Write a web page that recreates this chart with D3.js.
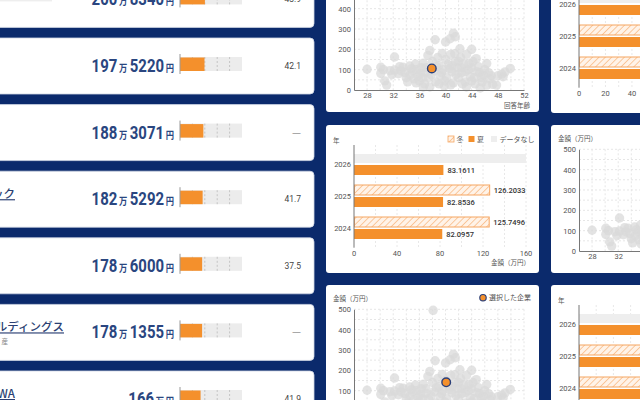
<!DOCTYPE html>
<html>
<head>
<meta charset="utf-8">
<script src="https://cdn.jsdelivr.net/npm/d3@7"></script>
<style>
  body { margin: 0; background: #0b2a6c; }
  svg { display: block; }
</style>
</head>
<body>
<svg id="chart" width="640" height="400"></svg>
<script>
// ranking list (left column)
const rankAmounts = [200.834, 197.522, 188.3071, 182.5292, 178.6, 178.1355, 166];
const rankAges = [43.9, 42.1, null, 41.7, 37.5, null, 41.9];
const rankNames = ["", "", "", "ック", "", "ルディングス", "WA"];
const rankNotes = ["", "", "", "", "", "産", ""];
const rankTicks = [100, 200, 300, 400];

// bonus per year (bar cards)
const bonusYears = ["2026", "2025", "2024"];
const winterMid = [null, 126.2033, 125.7496];
const summerMid = [83.1611, 82.8536, 82.0957];
const winterTopRight = [null, 101.4, 98.7];
const summerTopRight = [72.3, 70.8, 69.5];
const winterBottomRight = [null, 148.2, 145.6];
const summerBottomRight = [96.4, 95.1, 93.8];

// age vs amount (scatter cards)
const surveyPoints = [
  [28.0,102],[30.1,112],[30.1,82],[30.5,100],[30.7,45],[31.0,24],[31.5,95],[31.8,75],
  [32.2,162],[32.2,98],[32.8,80],[33.0,115],[33.2,95],[33.5,112],[33.8,85],[34.0,60],[34.2,40],[34.5,118],[34.6,75],[34.8,105],
  [35.0,95],[35.2,55],[35.4,128],[35.5,35],[35.6,100],[35.8,70],[36.0,45],[36.2,80],[36.3,110],[36.5,60],[36.6,132],[36.6,15],[36.8,30],
  [37.0,88],[37.0,110],[37.3,170],[37.4,60],[37.6,195],[37.6,15],[37.8,75],
  [38.0,140],[38.1,495],[38.3,95],[38.4,247],[38.5,40],[38.6,115],[38.8,160],
  [39.0,120],[39.0,30],[39.2,70],[39.4,85],[39.5,180],[39.6,100],[39.8,20],[39.9,45],
  [40.0,236],[40.0,150],[40.2,60],[40.4,125],[40.6,105],[40.7,252],[40.8,175],[40.8,25],
  [41.0,90],[41.0,120],[41.2,279],[41.5,262],[41.2,35],[41.4,179],[41.5,140],[41.6,75],[41.8,110],
  [42.0,60],[42.0,140],[42.2,203],[42.3,160],[42.4,110],[42.5,85],[42.6,30],[42.8,130],
  [43.0,40],[43.0,90],[43.2,15],[43.2,175],[43.5,100],[43.6,130],[43.8,65],
  [44.0,200],[44.0,110],[44.0,45],[44.2,140],[44.4,60],[44.5,30],[44.7,154],[44.8,90],
  [45.0,115],[45.2,85],[45.3,10],[45.5,60],[45.6,40],[45.8,73],
  [46.0,100],[46.3,130],[46.3,24],[46.6,85],[46.8,55],[47.0,70],[47.2,28],[47.8,24],
  [48.0,70],[48.6,78],[48.8,65],[49.1,89],[49.9,106]
];
const selectedTop = [37.9, 106];
const selectedBottom = [40.1, 141];
const selectedRight = [43.6, 118];

const NAVY = "#2a4680";
const ORANGE = "#f4902c";
const FONT = "Roboto, 'Noto Sans CJK JP', sans-serif";
const JFONT = "'Noto Sans CJK JP', Roboto, sans-serif";

const svg = d3.select("#chart");
svg.append("rect").attr("width", 640).attr("height", 400).attr("fill", "#0b2a6c");

// hatch for winter bars
const defs = svg.append("defs");
const hatch = defs.append("pattern")
  .attr("id", "hatch")
  .attr("patternUnits", "userSpaceOnUse")
  .attr("width", 4.5).attr("height", 4.5)
  .attr("patternTransform", "rotate(45)");
hatch.append("rect").attr("width", 4.5).attr("height", 4.5).attr("fill", "#fff3e8");
hatch.append("line")
  .attr("x1", 0).attr("y1", 0).attr("x2", 0).attr("y2", 4.5)
  .attr("stroke", "#f6a560").attr("stroke-width", 1.1);

/* ---------- left column: ranking cards ---------- */
const rankY = d3.scaleLinear().domain([0, 6]).range([-28.6, 371]);
const rankX = d3.scaleLinear().domain([0, 500]).range([180, 242]);

rankAmounts.forEach(function(v, i) {
  const top = rankY(i);
  const g = svg.append("g").attr("class", "rank_card");

  g.append("rect")
    .attr("x", -10).attr("y", top)
    .attr("width", 324).attr("height", 56)
    .attr("rx", 4)
    .attr("fill", "#fff")
    .attr("stroke", "#cfd6e3").attr("stroke-width", 0.8);

  if (i === 0) {
    g.append("rect").attr("x", -10).attr("y", top + 16).attr("width", 62).attr("height", 14).attr("fill", "#eeeeee");
  }

  // name (cut by the left edge)
  if (rankNames[i]) {
    g.append("text")
      .attr("x", i === 5 ? 64 : 15)
      .attr("y", top + 27)
      .attr("text-anchor", "end")
      .attr("font-family", JFONT)
      .attr("font-size", 11.5)
      .attr("font-weight", 500)
      .attr("fill", "#2b3f73")
      .attr("text-decoration", "underline")
      .text(rankNames[i]);
  }
  if (rankNotes[i]) {
    g.append("text")
      .attr("x", 8).attr("y", top + 40)
      .attr("text-anchor", "end")
      .attr("font-family", JFONT)
      .attr("font-size", 6.5)
      .attr("fill", "#888")
      .text(rankNotes[i]);
  }

  // amount  xxx万xxxx円
  const man = Math.floor(v);
  const rest = Math.round((v - man) * 10000);
  const t = g.append("text")
    .attr("transform", "translate(174," + (top + 34) + ") scale(0.83,1)")
    .attr("text-anchor", "end")
    .attr("font-family", FONT)
    .attr("font-weight", 700)
    .attr("fill", NAVY);
  t.append("tspan").attr("font-size", 18).text(man);
  t.append("tspan").attr("font-size", 10).attr("font-family", JFONT).attr("dx", 2).text("万");
  if (rest) t.append("tspan").attr("font-size", 18).attr("dx", 3).text(String(rest).padStart(4, "0"));
  t.append("tspan").attr("font-size", 10).attr("font-family", JFONT).attr("dx", 2).text("円");

  // mini bar
  g.append("rect")
    .attr("x", rankX(0)).attr("y", top + 19)
    .attr("width", rankX(500) - rankX(0)).attr("height", 14)
    .attr("fill", "#ececec");
  g.selectAll(".rk_tick").data(rankTicks).enter()
    .append("line")
    .attr("class", "rk_tick")
    .attr("x1", d => rankX(d)).attr("x2", d => rankX(d))
    .attr("y1", top + 19).attr("y2", top + 33)
    .attr("stroke", "#c4c4c4").attr("stroke-dasharray", "2,2");
  g.append("rect")
    .attr("x", rankX(0)).attr("y", top + 19.5)
    .attr("width", rankX(v) - rankX(0)).attr("height", 13.5)
    .attr("fill", ORANGE);
  g.append("line")
    .attr("x1", rankX(0)).attr("x2", rankX(0))
    .attr("y1", top + 16).attr("y2", top + 36)
    .attr("stroke", "#999").attr("stroke-width", 1);

  g.append("text")
    .attr("x", 301).attr("y", top + 31)
    .attr("text-anchor", "end")
    .attr("font-family", rankAges[i] == null ? "'DejaVu Sans', sans-serif" : FONT)
    .attr("font-size", rankAges[i] == null ? 9 : 8.5)
    .attr("fill", rankAges[i] == null ? "#666" : "#444")
    .text(rankAges[i] == null ? "—" : rankAges[i].toFixed(1));
});

/* ---------- scatter card ---------- */
function drawScatter(L, T, selected) {
  const g = svg.append("g").attr("class", "g_scatter");
  g.append("rect").attr("x", L).attr("y", T).attr("width", 213).attr("height", 148).attr("rx", 3).attr("fill", "#fff");

  const x = d3.scaleLinear().domain([26, 52]).range([L + 28, L + 198]);
  const y = d3.scaleLinear().domain([0, 500]).range([T + 126, T + 24.3]);

  g.selectAll(".vgrid").data(d3.range(28, 53, 2)).enter()
    .append("line").attr("class", "vgrid")
    .attr("x1", d => x(d)).attr("x2", d => x(d))
    .attr("y1", y(500)).attr("y2", y(0))
    .attr("stroke", "#e6e6e6").attr("stroke-dasharray", "2,2");
  g.selectAll(".hgrid").data(d3.range(50, 501, 50)).enter()
    .append("line").attr("class", "hgrid")
    .attr("x1", x(26)).attr("x2", x(52))
    .attr("y1", d => y(d)).attr("y2", d => y(d))
    .attr("stroke", "#e6e6e6").attr("stroke-dasharray", "2,2");

  g.selectAll(".pt").data(surveyPoints).enter()
    .append("circle").attr("class", "pt")
    .attr("cx", d => x(d[0])).attr("cy", d => y(d[1]))
    .attr("r", 4.7)
    .attr("fill", "#d9d9d9").attr("fill-opacity", 0.75);

  g.append("circle")
    .attr("cx", x(selected[0])).attr("cy", y(selected[1]))
    .attr("r", 4.3)
    .attr("fill", ORANGE).attr("stroke", "#2a3f7a").attr("stroke-width", 1.4);

  const ax = g.append("g")
    .attr("transform", "translate(0," + y(0) + ")")
    .call(d3.axisBottom(x).tickValues(d3.range(28, 53, 4)).tickSize(0).tickPadding(3));
  const ay = g.append("g")
    .attr("transform", "translate(" + x(26) + ",0)")
    .call(d3.axisLeft(y).tickValues(d3.range(0, 501, 100)).tickSize(0).tickPadding(3));
  [ax, ay].forEach(function(a) {
    a.select(".domain").attr("stroke", "#777");
    a.selectAll("text").attr("font-family", FONT).attr("font-size", 7.5).attr("fill", "#555");
  });

  g.append("text").attr("x", L + 7).attr("y", T + 16)
    .attr("font-family", JFONT).attr("font-size", 6.5).attr("fill", "#555")
    .text("金額（万円）");
  g.append("text").attr("x", L + 204).attr("y", T + 143.5)
    .attr("text-anchor", "end")
    .attr("font-family", JFONT).attr("font-size", 6.5).attr("fill", "#555")
    .text("回答年齢");

  g.append("circle").attr("cx", L + 157).attr("cy", T + 12.7).attr("r", 3.2)
    .attr("fill", ORANGE).attr("stroke", "#2a3f7a").attr("stroke-width", 1.2);
  g.append("text").attr("x", L + 163).attr("y", T + 15.2)
    .attr("font-family", JFONT).attr("font-size", 7).attr("fill", "#555")
    .text("選択した企業");
}

/* ---------- bar card ---------- */
function drawBars(L, T, winter, summer, xMax, tickStep) {
  const g = svg.append("g").attr("class", "g_bars");
  g.append("rect").attr("x", L).attr("y", T).attr("width", 213).attr("height", 148).attr("rx", 3).attr("fill", "#fff");

  const x = d3.scaleLinear().domain([0, xMax]).range([L + 28, L + 28 + 172]);
  const y = d3.scaleBand().domain(bonusYears).range([T + 23, T + 119]);
  const mid = d => y(d) + y.bandwidth() / 2;

  g.selectAll(".vgrid").data(d3.range(tickStep / 2, xMax + 0.01, tickStep / 2)).enter()
    .append("line").attr("class", "vgrid")
    .attr("x1", d => x(d)).attr("x2", d => x(d))
    .attr("y1", T + 20).attr("y2", T + 122.7)
    .attr("stroke", "#e8e8e8").attr("stroke-dasharray", "2,2");

  const rows = bonusYears.map((yr, i) => ({ yr: yr, w: winter[i], s: summer[i] }));

  rows.forEach(function(r) {
    const c = mid(r.yr);
    if (r.w == null) {
      g.append("rect").attr("x", x(0)).attr("y", c - 10)
        .attr("width", x(xMax) - x(0)).attr("height", 9)
        .attr("fill", "#eeeeee");
    } else {
      g.append("rect").attr("x", x(0) + 0.5).attr("y", c - 11)
        .attr("width", x(r.w) - x(0) - 0.5).attr("height", 10)
        .attr("fill", "url(#hatch)")
        .attr("stroke", "#f6a560").attr("stroke-width", 1);
      g.append("text").attr("x", x(r.w) + 4).attr("y", c - 3.3)
        .attr("font-family", FONT).attr("font-size", 7.5).attr("font-weight", 500).attr("fill", "#333")
        .text(r.w.toFixed(4));
    }
    g.append("rect").attr("x", x(0)).attr("y", c + 1)
      .attr("width", x(r.s) - x(0)).attr("height", 10)
      .attr("fill", ORANGE);
    g.append("text").attr("x", x(r.s) + 4).attr("y", c + 8.7)
      .attr("font-family", FONT).attr("font-size", 7.5).attr("font-weight", 500).attr("fill", "#333")
      .text(r.s.toFixed(4));
  });

  g.append("line")
    .attr("x1", x(0)).attr("x2", x(0))
    .attr("y1", T + 20).attr("y2", T + 122.7)
    .attr("stroke", "#777");
  g.selectAll(".ylab").data(bonusYears).enter()
    .append("text").attr("class", "ylab")
    .attr("x", x(0) - 3).attr("y", d => mid(d) + 2.7)
    .attr("text-anchor", "end")
    .attr("font-family", FONT).attr("font-size", 7.5).attr("fill", "#555")
    .text(d => d);
  g.selectAll(".xlab").data(d3.range(0, xMax + 0.01, tickStep)).enter()
    .append("text").attr("class", "xlab")
    .attr("x", d => x(d)).attr("y", T + 130.5)
    .attr("text-anchor", "middle")
    .attr("font-family", FONT).attr("font-size", 7.5).attr("fill", "#555")
    .text(d => d);

  g.append("text").attr("x", L + 7).attr("y", T + 17.5)
    .attr("font-family", JFONT).attr("font-size", 6.5).attr("fill", "#555").text("年");
  g.append("text").attr("x", L + 204).attr("y", T + 139.5)
    .attr("text-anchor", "end")
    .attr("font-family", JFONT).attr("font-size", 6.5).attr("fill", "#555").text("金額（万円）");

  // legend
  const lg = g.append("g").attr("transform", "translate(" + (L + 122) + "," + (T + 11) + ")");
  lg.append("rect").attr("x", 0).attr("y", 0).attr("width", 6).attr("height", 6)
    .attr("fill", "url(#hatch)").attr("stroke", "#f6a560").attr("stroke-width", 0.8);
  lg.append("text").attr("x", 8.5).attr("y", 5.8).attr("font-family", JFONT).attr("font-size", 7).attr("fill", "#555").text("冬");
  lg.append("rect").attr("x", 20.5).attr("y", 0).attr("width", 6).attr("height", 6).attr("fill", ORANGE);
  lg.append("text").attr("x", 29).attr("y", 5.8).attr("font-family", JFONT).attr("font-size", 7).attr("fill", "#555").text("夏");
  lg.append("rect").attr("x", 43).attr("y", 0).attr("width", 6).attr("height", 6).attr("fill", "#eeeeee");
  lg.append("text").attr("x", 51.5).attr("y", 5.8).attr("font-family", JFONT).attr("font-size", 7).attr("fill", "#555").text("データなし");
}

// middle column
drawScatter(326, -36, selectedTop);
drawBars(326, 125, winterMid, summerMid, 160, 40);
drawScatter(326, 285, selectedBottom);

// right column
drawBars(551, -35, winterTopRight, summerTopRight, 130, 20);
drawScatter(551, 125, selectedRight);
drawBars(551, 285, winterBottomRight, summerBottomRight, 200, 40);
</script>
</body>
</html>
